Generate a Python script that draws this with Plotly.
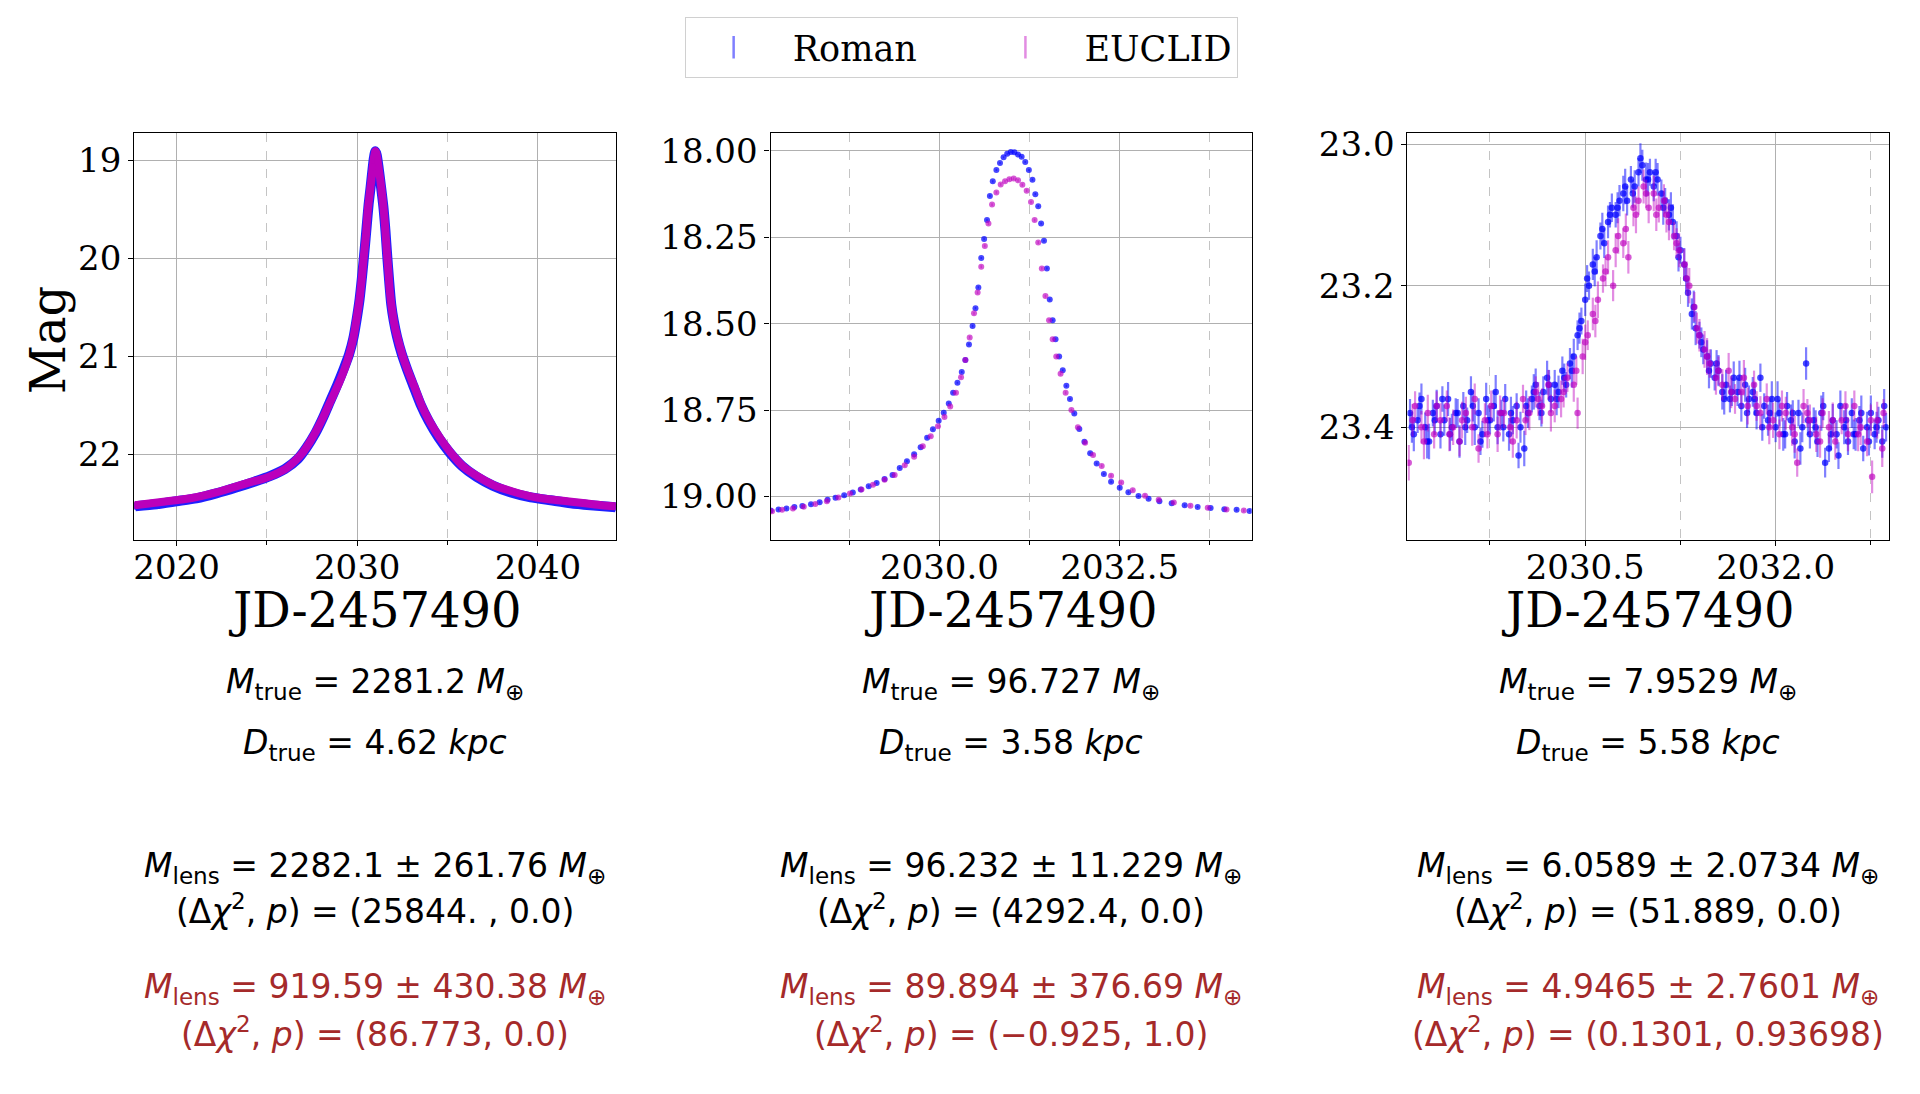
import plotly.graph_objects as go

# ---------------- data ----------------
# Panel 1 (wide window)
p1_roman_t = [2017.72, 2018.9, 2020.0, 2021.1, 2022.2, 2023.3, 2024.3, 2025.2, 2026.0, 2026.7,
              2027.2, 2027.7, 2028.1, 2028.5, 2028.9, 2029.25, 2029.55, 2029.78, 2029.97, 2030.13,
              2030.27, 2030.4, 2030.52, 2030.63, 2030.73, 2030.83, 2030.92, 2031.0, 2031.08, 2031.17,
              2031.26, 2031.36, 2031.46, 2031.56, 2031.66, 2031.76, 2031.88, 2032.02, 2032.2, 2032.45,
              2032.75, 2033.1, 2033.5, 2033.95, 2034.5, 2035.1, 2035.8, 2036.6, 2037.5, 2038.5,
              2039.6, 2040.7, 2041.8, 2042.9, 2044.3]
p1_roman_mag = [22.53, 22.51, 22.48, 22.45, 22.40, 22.34, 22.28, 22.22, 22.15, 22.05,
                21.93, 21.78, 21.63, 21.46, 21.29, 21.13, 20.98, 20.82, 20.62, 20.42,
                20.18, 19.93, 19.68, 19.45, 19.29, 19.12, 18.98, 18.91, 18.95, 19.06,
                19.19, 19.34, 19.50, 19.72, 19.98, 20.22, 20.47, 20.64, 20.80, 20.97,
                21.13, 21.30, 21.49, 21.66, 21.83, 21.98, 22.12, 22.23, 22.32, 22.39,
                22.44, 22.47, 22.50, 22.52, 22.54]
p1_euclid_t = [2017.70, 2018.6, 2019.5, 2020.4, 2021.3, 2022.2, 2023.1, 2024.0, 2024.8, 2025.5,
               2026.1, 2026.6, 2027.0, 2027.4, 2027.8, 2028.2, 2028.6, 2029.0, 2029.3, 2029.58,
               2029.8, 2029.98, 2030.12, 2030.25, 2030.37, 2030.48, 2030.58, 2030.68, 2030.77, 2030.86,
               2030.94, 2031.0, 2031.06, 2031.13, 2031.21, 2031.29, 2031.38, 2031.47, 2031.55, 2031.63,
               2031.71, 2031.80, 2031.92, 2032.08, 2032.3, 2032.55, 2032.85, 2033.2, 2033.6, 2034.05,
               2034.6, 2035.2, 2035.9, 2036.7, 2037.6, 2038.6, 2039.6, 2040.6, 2041.6, 2042.6,
               2043.5, 2044.3]
p1_euclid_mag = [22.52, 22.50, 22.48, 22.46, 22.43, 22.39, 22.34, 22.29, 22.25, 22.20,
                 22.14, 22.06, 21.98, 21.87, 21.74, 21.59, 21.43, 21.27, 21.13, 20.97,
                 20.80, 20.60, 20.43, 20.21, 19.97, 19.77, 19.52, 19.36, 19.22, 19.07,
                 18.96, 18.91, 18.93, 19.01, 19.12, 19.22, 19.36, 19.52, 19.70, 19.92,
                 20.10, 20.33, 20.52, 20.70, 20.86, 21.02, 21.17, 21.33, 21.52, 21.68,
                 21.84, 21.99, 22.13, 22.23, 22.32, 22.38, 22.43, 22.46, 22.48, 22.50,
                 22.52, 22.53]
p1_err_roman = 0.004
p1_err_euclid = 0.006

# Panel 2
p2_roman_t = [2027.66, 2027.77, 2027.88, 2027.99, 2028.10, 2028.22, 2028.34, 2028.45, 2028.56, 2028.68,
              2028.80, 2028.91, 2029.02, 2029.13, 2029.24, 2029.35, 2029.45, 2029.55, 2029.65, 2029.74,
              2029.83, 2029.91, 2029.99, 2030.06, 2030.13, 2030.19, 2030.25, 2030.31, 2030.36, 2030.41,
              2030.46, 2030.50, 2030.54, 2030.58, 2030.62, 2030.66, 2030.70, 2030.74, 2030.79, 2030.84,
              2030.89, 2030.94, 2030.99, 2031.04, 2031.09, 2031.14, 2031.19, 2031.24, 2031.29, 2031.33,
              2031.37, 2031.41, 2031.45, 2031.49, 2031.53, 2031.57, 2031.61, 2031.66, 2031.71, 2031.76,
              2031.81, 2031.87, 2031.94, 2032.01, 2032.09, 2032.18, 2032.28, 2032.38, 2032.50, 2032.62,
              2032.76, 2032.90, 2033.05, 2033.22, 2033.40, 2033.58, 2033.76, 2033.95, 2034.12, 2034.30]
p2_roman_mag = [19.041, 19.038, 19.035, 19.031, 19.028, 19.023, 19.017, 19.010, 19.004, 18.997,
                18.989, 18.980, 18.971, 18.961, 18.950, 18.938, 18.918, 18.898, 18.878, 18.858,
                18.830, 18.806, 18.781, 18.758, 18.731, 18.700, 18.671, 18.640, 18.605, 18.560,
                18.507, 18.455, 18.395, 18.310, 18.255, 18.200, 18.130, 18.088, 18.055, 18.035,
                18.018, 18.008, 18.003, 18.004, 18.010, 18.017, 18.032, 18.055, 18.083, 18.125,
                18.160, 18.210, 18.260, 18.340, 18.430, 18.490, 18.545, 18.595, 18.635, 18.680,
                18.718, 18.760, 18.805, 18.842, 18.875, 18.905, 18.935, 18.958, 18.975, 18.988,
                18.999, 19.007, 19.014, 19.020, 19.026, 19.031, 19.034, 19.037, 19.039, 19.042]
p2_euclid_t = [2027.68, 2027.82, 2027.97, 2028.12, 2028.28, 2028.44, 2028.60, 2028.76, 2028.92, 2029.08,
               2029.24, 2029.38, 2029.52, 2029.65, 2029.77, 2029.88, 2029.98, 2030.07, 2030.15, 2030.23,
               2030.30, 2030.36, 2030.42, 2030.48, 2030.53, 2030.58, 2030.63, 2030.68, 2030.73, 2030.79,
               2030.85, 2030.91, 2030.97, 2031.03, 2031.09, 2031.15, 2031.21, 2031.27, 2031.32, 2031.37,
               2031.42, 2031.47, 2031.52, 2031.57, 2031.62, 2031.68, 2031.75, 2031.83, 2031.92, 2032.02,
               2032.13, 2032.25, 2032.38, 2032.52, 2032.68, 2032.85, 2033.04, 2033.25, 2033.48, 2033.72,
               2033.98, 2034.22]
p2_euclid_mag = [19.043, 19.039, 19.035, 19.030, 19.022, 19.014, 19.003, 18.992, 18.980, 18.966,
                 18.952, 18.938, 18.910, 18.885, 18.855, 18.826, 18.797, 18.770, 18.740, 18.700,
                 18.655, 18.605, 18.540, 18.470, 18.410, 18.335, 18.275, 18.210, 18.155, 18.120,
                 18.097, 18.088, 18.082, 18.080, 18.085, 18.098, 18.115, 18.148, 18.200, 18.265,
                 18.340, 18.420, 18.490, 18.545, 18.595, 18.645, 18.700, 18.750, 18.800, 18.845,
                 18.880, 18.912, 18.940, 18.960, 18.982, 18.998, 19.010, 19.018, 19.027, 19.033,
                 19.038, 19.041]
p2_err_roman = 0.003
p2_err_euclid = 0.004

# Panel 3 (faint source, noisy)
p3_roman_t = [2029.12, 2029.15, 2029.18, 2029.21, 2029.24, 2029.27, 2029.30, 2029.33, 2029.36, 2029.39,
              2029.42, 2029.45, 2029.48, 2029.51, 2029.54, 2029.57, 2029.60, 2029.63, 2029.66, 2029.69,
              2029.72, 2029.75, 2029.78, 2029.81, 2029.84, 2029.87, 2029.90, 2029.93, 2029.96, 2029.99,
              2030.02, 2030.05, 2030.08, 2030.11, 2030.14, 2030.17, 2030.20, 2030.23, 2030.26, 2030.29,
              2030.32, 2030.35, 2030.38, 2030.41, 2030.44, 2030.47, 2030.50, 2030.53, 2030.56, 2030.59,
              2030.62, 2030.65, 2030.68, 2030.71, 2030.74, 2030.77, 2030.80, 2030.83, 2030.86, 2030.89,
              2030.92, 2030.95, 2030.98, 2031.01, 2031.04, 2031.07, 2031.10, 2031.13, 2031.16, 2031.19,
              2031.22, 2031.25, 2031.28, 2031.31, 2031.34, 2031.37, 2031.40, 2031.43, 2031.46, 2031.49,
              2031.52, 2031.55, 2031.58, 2031.61, 2031.64, 2031.67, 2031.70, 2031.73, 2031.76, 2031.79,
              2031.82, 2031.85, 2031.88, 2031.91, 2031.94, 2031.97, 2032.00, 2032.03, 2032.06, 2032.09,
              2032.12, 2032.15, 2032.18, 2032.21, 2032.24, 2032.27, 2032.30, 2032.33, 2032.36, 2032.39,
              2032.42, 2032.45, 2032.48, 2032.51, 2032.54, 2032.57, 2032.60, 2032.63, 2032.66, 2032.69,
              2032.72, 2032.75, 2032.78, 2032.81, 2032.84, 2032.87,
              2029.135, 2029.195, 2029.255, 2029.315, 2029.375, 2029.435, 2029.495, 2029.555, 2029.615, 2029.675,
              2029.735, 2029.795, 2029.855, 2029.915, 2029.975, 2030.035, 2030.095, 2030.155, 2030.215, 2030.275,
              2030.335, 2030.395, 2030.455, 2030.515, 2030.575, 2030.635, 2030.695, 2030.755, 2030.815, 2030.875,
              2030.935, 2030.995, 2031.055, 2031.115, 2031.175, 2031.235, 2031.295, 2031.355, 2031.415, 2031.475,
              2031.535, 2031.595, 2031.655, 2031.715, 2031.775, 2031.835, 2031.895, 2031.955, 2032.015, 2032.075,
              2032.135, 2032.195, 2032.255, 2032.315, 2032.375, 2032.435, 2032.495, 2032.555, 2032.615, 2032.675,
              2032.735, 2032.795, 2032.855]
p3_roman_mag = [23.38, 23.41, 23.39, 23.36, 23.40, 23.42, 23.38, 23.37, 23.41, 23.39,
                23.36, 23.40, 23.38, 23.42, 23.37, 23.39, 23.35, 23.40, 23.38, 23.41,
                23.36, 23.39, 23.37, 23.40, 23.38, 23.36, 23.41, 23.39, 23.37, 23.40,
                23.43, 23.38, 23.36, 23.34, 23.37, 23.35, 23.33, 23.36, 23.34, 23.35,
                23.32, 23.34, 23.31, 23.30, 23.27, 23.25, 23.22, 23.20, 23.17, 23.16,
                23.13, 23.14, 23.11, 23.09, 23.10, 23.08, 23.07, 23.08, 23.05, 23.06,
                23.04, 23.03, 23.05, 23.04, 23.06, 23.05, 23.07, 23.08, 23.10, 23.11,
                23.13, 23.15, 23.17, 23.21, 23.24, 23.26, 23.27, 23.29, 23.30, 23.31,
                23.33, 23.32, 23.35, 23.34, 23.36, 23.33, 23.35, 23.37, 23.34, 23.36,
                23.35, 23.38, 23.33, 23.37, 23.39, 23.36, 23.40, 23.38, 23.41, 23.37,
                23.39, 23.42, 23.38, 23.40, 23.31, 23.41, 23.39, 23.42, 23.38, 23.45,
                23.43, 23.39, 23.41, 23.37, 23.40, 23.42, 23.38, 23.41, 23.39, 23.43,
                23.40, 23.38, 23.41, 23.39, 23.42, 23.40,
                23.40, 23.37, 23.42, 23.39, 23.36, 23.41, 23.38, 23.40, 23.37, 23.42,
                23.39, 23.35, 23.40, 23.38, 23.44, 23.37, 23.35, 23.38, 23.34, 23.36,
                23.33, 23.32, 23.26, 23.19, 23.18, 23.12, 23.10, 23.09, 23.06, 23.07,
                23.02, 23.05, 23.04, 23.09, 23.09, 23.16, 23.19, 23.23, 23.28, 23.32,
                23.31, 23.36, 23.35, 23.33, 23.38, 23.36, 23.40, 23.38, 23.36, 23.41,
                23.38, 23.43, 23.39, 23.40, 23.37, 23.41, 23.44, 23.39, 23.41, 23.38,
                23.42, 23.40, 23.37]
p3_roman_err = [0.020, 0.024, 0.018, 0.022, 0.021, 0.025, 0.019, 0.023, 0.020, 0.022,
                0.024, 0.019, 0.021, 0.023, 0.020, 0.018, 0.022, 0.025, 0.021, 0.019,
                0.023, 0.020, 0.022, 0.024, 0.019, 0.021, 0.023, 0.020, 0.018, 0.022,
                0.025, 0.021, 0.019, 0.023, 0.020, 0.022, 0.024, 0.019, 0.021, 0.023,
                0.020, 0.018, 0.022, 0.025, 0.021, 0.019, 0.023, 0.020, 0.022, 0.024,
                0.019, 0.021, 0.023, 0.020, 0.018, 0.022, 0.025, 0.021, 0.019, 0.023,
                0.020, 0.022, 0.024, 0.019, 0.021, 0.023, 0.020, 0.018, 0.022, 0.025,
                0.021, 0.019, 0.023, 0.020, 0.022, 0.024, 0.019, 0.021, 0.023, 0.020,
                0.018, 0.022, 0.025, 0.021, 0.019, 0.023, 0.020, 0.022, 0.024, 0.019,
                0.021, 0.023, 0.020, 0.018, 0.022, 0.025, 0.021, 0.019, 0.023, 0.020,
                0.022, 0.024, 0.019, 0.021, 0.023, 0.020, 0.018, 0.022, 0.025, 0.021,
                0.019, 0.023, 0.020, 0.022, 0.024, 0.019, 0.021, 0.023, 0.020, 0.018,
                0.022, 0.025, 0.021, 0.019, 0.023, 0.020,
                0.022, 0.019, 0.024, 0.021, 0.018, 0.023, 0.020, 0.025, 0.022, 0.019,
                0.021, 0.024, 0.020, 0.023, 0.018, 0.022, 0.025, 0.019, 0.021, 0.023,
                0.020, 0.024, 0.022, 0.019, 0.021, 0.023, 0.018, 0.022, 0.025, 0.020,
                0.021, 0.023, 0.019, 0.024, 0.022, 0.020, 0.018, 0.023, 0.021, 0.025,
                0.019, 0.022, 0.020, 0.024, 0.021, 0.023, 0.019, 0.022, 0.025, 0.020,
                0.018, 0.023, 0.021, 0.024, 0.020, 0.022, 0.019, 0.023, 0.021, 0.025,
                0.020, 0.022, 0.024]
p3_euclid_t = [2029.11, 2029.16, 2029.21, 2029.26, 2029.31, 2029.36, 2029.41, 2029.46, 2029.51, 2029.56,
               2029.61, 2029.66, 2029.71, 2029.76, 2029.81, 2029.86, 2029.91, 2029.96, 2030.01, 2030.06,
               2030.11, 2030.16, 2030.21, 2030.26, 2030.31, 2030.36, 2030.41, 2030.44, 2030.48, 2030.52,
               2030.56, 2030.60, 2030.64, 2030.68, 2030.72, 2030.76, 2030.80, 2030.84, 2030.88, 2030.92,
               2030.96, 2031.00, 2031.04, 2031.08, 2031.12, 2031.16, 2031.20, 2031.24, 2031.28, 2031.32,
               2031.36, 2031.40, 2031.44, 2031.48, 2031.53, 2031.58, 2031.63, 2031.68, 2031.73, 2031.78,
               2031.83, 2031.88, 2031.93, 2031.98, 2032.03, 2032.08, 2032.13, 2032.17, 2032.22, 2032.27,
               2032.32, 2032.37, 2032.42, 2032.47, 2032.52, 2032.57, 2032.62, 2032.67, 2032.72, 2032.76,
               2032.80, 2032.85,
               2029.14, 2029.23, 2029.33, 2029.43, 2029.53, 2029.63, 2029.73, 2029.83, 2029.93, 2030.03,
               2030.13, 2030.23, 2030.33, 2030.43, 2030.50, 2030.58, 2030.66, 2030.74, 2030.82, 2030.90,
               2030.98, 2031.06, 2031.14, 2031.22, 2031.30, 2031.38, 2031.46, 2031.55, 2031.65, 2031.75,
               2031.85, 2031.95, 2032.05, 2032.15, 2032.25, 2032.35, 2032.45, 2032.55, 2032.65, 2032.75,
               2032.84]
p3_euclid_mag = [23.45, 23.37, 23.40, 23.38, 23.41, 23.39, 23.37, 23.40, 23.42, 23.38,
                 23.40, 23.43, 23.39, 23.37, 23.41, 23.38, 23.40, 23.39, 23.36, 23.38,
                 23.35, 23.37, 23.34, 23.37, 23.36, 23.33, 23.34, 23.38, 23.30, 23.27,
                 23.24, 23.22, 23.19, 23.16, 23.20, 23.13, 23.14, 23.16, 23.09, 23.08,
                 23.06, 23.09, 23.07, 23.09, 23.08, 23.11, 23.13, 23.15, 23.17, 23.20,
                 23.23, 23.27, 23.29, 23.31, 23.33, 23.34, 23.32, 23.36, 23.35, 23.37,
                 23.34, 23.38, 23.36, 23.39, 23.41, 23.38, 23.40, 23.45, 23.37, 23.39,
                 23.41, 23.38, 23.40, 23.42, 23.39, 23.41, 23.37, 23.40, 23.42, 23.47,
                 23.39, 23.38,
                 23.39, 23.42, 23.37, 23.41, 23.39, 23.36, 23.41, 23.38, 23.42, 23.39,
                 23.36, 23.38, 23.35, 23.32, 23.28, 23.25, 23.18, 23.15, 23.12, 23.10,
                 23.07, 23.10, 23.10, 23.14, 23.19, 23.26, 23.30, 23.32, 23.35, 23.33,
                 23.37, 23.40, 23.37, 23.41, 23.38, 23.42, 23.39, 23.37, 23.41, 23.39,
                 23.43]
p3_euclid_err = [0.025, 0.021, 0.023, 0.026, 0.020, 0.024, 0.022, 0.025, 0.021, 0.023,
                 0.026, 0.020, 0.024, 0.022, 0.025, 0.021, 0.023, 0.026, 0.020, 0.024,
                 0.022, 0.025, 0.021, 0.023, 0.026, 0.020, 0.024, 0.022, 0.025, 0.021,
                 0.023, 0.026, 0.020, 0.024, 0.022, 0.025, 0.021, 0.023, 0.026, 0.020,
                 0.024, 0.022, 0.025, 0.021, 0.023, 0.026, 0.020, 0.024, 0.022, 0.025,
                 0.021, 0.023, 0.026, 0.020, 0.024, 0.022, 0.025, 0.021, 0.023, 0.026,
                 0.020, 0.024, 0.022, 0.025, 0.021, 0.023, 0.026, 0.020, 0.024, 0.022,
                 0.025, 0.021, 0.023, 0.026, 0.020, 0.024, 0.022, 0.025, 0.021, 0.023,
                 0.026, 0.020,
                 0.023, 0.025, 0.021, 0.024, 0.026, 0.022, 0.020, 0.025, 0.023, 0.021,
                 0.024, 0.026, 0.022, 0.020, 0.025, 0.023, 0.021, 0.024, 0.022, 0.026,
                 0.020, 0.023, 0.025, 0.021, 0.024, 0.022, 0.026, 0.020, 0.023, 0.025,
                 0.021, 0.024, 0.022, 0.026, 0.020, 0.023, 0.025, 0.021, 0.024, 0.022,
                 0.026]

# Text values under each panel
m_true = ["2281.2", "96.727", "7.9529"]
d_true = ["4.62", "3.58", "5.58"]
m_lens_roman = [("2282.1", "261.76"), ("96.232", "11.229"), ("6.0589", "2.0734")]
chi_p_roman = [("25844. ", "0.0"), ("4292.4", "0.0"), ("51.889", "0.0")]
m_lens_euclid = [("919.59", "430.38"), ("89.894", "376.69"), ("4.9465", "2.7601")]
chi_p_euclid = [("86.773", "0.0"), ("\u22120.925", "1.0"), ("0.1301", "0.93698")]
series_names = ["Roman", "EUCLID"]
x_title = "JD-2457490"
y_title = "Mag"

# ---------------- styling ----------------
W, H = 1920, 1094
SERIF = "DejaVu Serif"
SANS = "DejaVu Sans"
BLUE_M = "rgba(0,0,255,0.72)"
BLUE_E = "rgba(0,0,255,0.5)"
MAG_M = "rgba(191,0,191,0.65)"
MAG_E = "rgba(191,0,191,0.45)"
RED = "#a52a2a"
NB = "\u00a0"

px_x = [(133.3, 615.0), (770.0, 1251.4), (1407.2, 1888.6)]
px_y = (124.7, 535.3)
ydom = [1 - px_y[1] / H, 1 - px_y[0] / H]

fig = go.Figure()

# Panel 1: dense photometry drawn as a thick band of points
fig.add_trace(go.Scatter(x=p1_roman_t, y=p1_roman_mag, mode="lines+markers", name=series_names[0],
                         line=dict(color="#1f1fff", width=10, shape="spline", smoothing=0.6),
                         marker=dict(color="#1f1fff", size=7),
                         error_y=dict(type="constant", value=p1_err_roman, color=BLUE_E, thickness=1.5, width=0),
                         xaxis="x", yaxis="y", showlegend=False))
fig.add_trace(go.Scatter(x=p1_euclid_t, y=p1_euclid_mag, mode="lines+markers", name=series_names[1],
                         line=dict(color="#bb00bb", width=8, shape="spline", smoothing=0.6),
                         marker=dict(color="#bb00bb", size=7),
                         error_y=dict(type="constant", value=p1_err_euclid, color=MAG_E, thickness=1.5, width=0),
                         xaxis="x", yaxis="y", showlegend=False))

# Panel 2
fig.add_trace(go.Scatter(x=p2_roman_t, y=p2_roman_mag, mode="markers", name=series_names[0],
                         marker=dict(color=BLUE_M, size=6),
                         error_y=dict(type="constant", value=p2_err_roman, color=BLUE_E, thickness=1.5, width=0),
                         xaxis="x2", yaxis="y2", showlegend=False))
fig.add_trace(go.Scatter(x=p2_euclid_t, y=p2_euclid_mag, mode="markers", name=series_names[1],
                         marker=dict(color=MAG_M, size=6),
                         error_y=dict(type="constant", value=p2_err_euclid, color=MAG_E, thickness=1.5, width=0),
                         xaxis="x2", yaxis="y2", showlegend=False))

# Panel 3
fig.add_trace(go.Scatter(x=p3_roman_t, y=p3_roman_mag, mode="markers", name=series_names[0],
                         marker=dict(color=BLUE_M, size=6.5),
                         error_y=dict(type="data", array=p3_roman_err, color=BLUE_E, thickness=2.2, width=0),
                         xaxis="x3", yaxis="y3", showlegend=False))
fig.add_trace(go.Scatter(x=p3_euclid_t, y=p3_euclid_mag, mode="markers", name=series_names[1],
                         marker=dict(color=MAG_M, size=6.5),
                         error_y=dict(type="data", array=p3_euclid_err, color=MAG_E, thickness=2.2, width=0),
                         xaxis="x3", yaxis="y3", showlegend=False))

# legend entries (error-bar style symbol)
legend_labels = [NB + series_names[0] + NB * 5, NB + series_names[1]]
for nm, col in zip(legend_labels, [BLUE_E, MAG_E]):
    fig.add_trace(go.Scatter(x=[None], y=[None], mode="markers", name=nm,
                             marker=dict(symbol="line-ns", size=16, color=col,
                                         line=dict(color=col, width=2.5)),
                             xaxis="x3", yaxis="y3", showlegend=True))

grid_col = "#b0b0b0"
TICKFONT = dict(family=SERIF, size=34, color="black")


def xax(i, rng, dtick, tick0, minor_dtick, fmt):
    return dict(domain=[px_x[i][0] / W, px_x[i][1] / W], range=rng, anchor="y" if i == 0 else f"y{i+1}",
                dtick=dtick, tick0=tick0, tickformat=fmt,
                showline=True, mirror=True, linecolor="black", linewidth=1.3,
                ticks="outside", ticklen=5, tickwidth=1, tickcolor="black",
                ticklabelstandoff=-8,
                showgrid=True, gridcolor=grid_col, gridwidth=1.1, zeroline=False,
                tickfont=TICKFONT,
                minor=dict(dtick=minor_dtick, tick0=tick0, showgrid=True, griddash="dash",
                           gridcolor="#c4c4c4", gridwidth=1, ticks="outside", ticklen=4,
                           tickcolor="black", tickwidth=1))


def yax(i, rng, dtick, tick0, fmt):
    return dict(domain=ydom, range=rng, anchor="x" if i == 0 else f"x{i+1}",
                dtick=dtick, tick0=tick0, tickformat=fmt,
                showline=True, mirror=True, linecolor="black", linewidth=1.3,
                ticks="outside", ticklen=5, tickwidth=1, tickcolor="black",
                showgrid=True, gridcolor=grid_col, gridwidth=1.1, zeroline=False,
                tickfont=TICKFONT)


fig.update_layout(
    width=W, height=H, margin=dict(l=0, r=0, t=0, b=0),
    paper_bgcolor="white", plot_bgcolor="white",
    xaxis=xax(0, [2017.66, 2044.3], 10, 2020, 5, "d"),
    yaxis=yax(0, [22.874, 18.72], 1, 19, "d"),
    xaxis2=xax(1, [2027.66, 2034.33], 2.5, 2030, 1.25, ".1f"),
    yaxis2=yax(1, [19.126, 17.947], 0.25, 18, ".2f"),
    xaxis3=xax(2, [2029.10, 2032.89], 1.5, 2030.5, 0.75, ".1f"),
    yaxis3=yax(2, [23.559, 22.984], 0.2, 23.0, ".1f"),
    legend=dict(orientation="h", x=684 / W, xanchor="left", y=1 - 8 / H, yanchor="top",
                font=dict(family=SERIF, size=35, color="black"),
                bordercolor="#d0d0d0", borderwidth=1, bgcolor="white",
                itemwidth=86, itemsizing="trace"),
)

ann = []


def py(ypix):
    return 1 - ypix / H


TXT = 33
for i in range(3):
    cx = (px_x[i][0] + px_x[i][1]) / 2 / W
    ann.append(dict(x=cx, y=py(606), text=x_title, font=dict(family=SERIF, size=48, color="black")))
    ann.append(dict(x=cx, y=py(680), text=f"<i>M</i><sub>true</sub> = {m_true[i]} <i>M</i><sub>\u2295</sub>",
                    font=dict(family=SANS, size=TXT, color="black")))
    ann.append(dict(x=cx, y=py(741.5), text=f"<i>D</i><sub>true</sub> = {d_true[i]} <i>kpc</i>",
                    font=dict(family=SANS, size=TXT, color="black")))
    m, e = m_lens_roman[i]
    ann.append(dict(x=cx, y=py(866), text=f"<i>M</i><sub>lens</sub> = {m} \u00b1 {e} <i>M</i><sub>\u2295</sub>",
                    font=dict(family=SANS, size=TXT, color="black")))
    c, p = chi_p_roman[i]
    ann.append(dict(x=cx, y=py(908), text=f"(\u0394<i>\u03c7</i><sup>2</sup>, <i>p</i>) = ({c}, {p})",
                    font=dict(family=SANS, size=TXT, color="black")))
    m, e = m_lens_euclid[i]
    ann.append(dict(x=cx, y=py(988), text=f"<i>M</i><sub>lens</sub> = {m} \u00b1 {e} <i>M</i><sub>\u2295</sub>",
                    font=dict(family=SANS, size=TXT, color=RED)))
    c, p = chi_p_euclid[i]
    ann.append(dict(x=cx, y=py(1032), text=f"(\u0394<i>\u03c7</i><sup>2</sup>, <i>p</i>) = ({c}, {p})",
                    font=dict(family=SANS, size=TXT, color=RED)))

ann.append(dict(x=47 / W, y=py(333), text=y_title, textangle=-90,
                font=dict(family=SERIF, size=48, color="black")))

for a in ann:
    a.update(xref="paper", yref="paper", showarrow=False, xanchor="center", yanchor="middle")
fig.update_layout(annotations=ann)

fig.write_html("out.html", config={"displayModeBar": False},
               post_script="document.body.style.margin='0px';")
